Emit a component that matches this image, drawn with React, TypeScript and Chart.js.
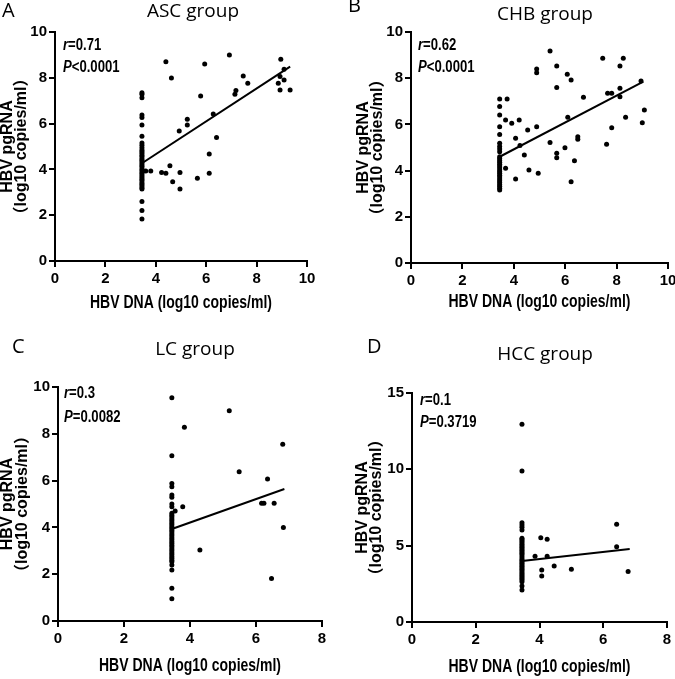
import React, { useEffect, useRef } from "react";
import { Chart, registerables } from "chart.js";
Chart.register(...registerables);

// Detection limit of HBV DNA (x) where many samples pile up
const LOD = 3.45;

// ---- Panel A: ASC group ----
const ascStackY = [7.35, 7.28, 7.13, 6.38, 6.27, 5.94, 5.45, 5.15, 5.05, 4.95, 4.85, 4.78, 4.7, 4.62, 4.55, 4.47, 4.4, 4.32, 4.25, 4.17, 4.1, 4.02, 3.95, 3.87, 3.8, 3.72, 3.65, 3.57, 3.5, 3.42, 3.35, 3.27, 3.2, 3.14, 2.6, 2.2, 1.83];
const ascX = [3.6, 3.8, 4.23, 4.4, 4.4, 4.56, 4.62, 4.67, 4.93, 4.96, 4.96, 5.25, 5.25, 5.65, 5.78, 5.94, 6.12, 6.12, 6.28, 6.41, 6.92, 7.14, 7.18, 7.47, 7.65, 8.86, 8.93, 8.96, 8.93, 9.09, 9.09, 9.33];
const ascY = [3.93, 3.93, 3.86, 8.7, 3.83, 4.16, 7.99, 3.46, 5.68, 3.86, 3.14, 6.19, 5.94, 3.61, 7.21, 8.6, 4.67, 3.83, 6.42, 5.39, 9.0, 7.28, 7.44, 8.08, 7.76, 7.76, 7.47, 8.81, 8.06, 8.37, 7.9, 7.47];
const ascFitX = [3.45, 9.33];
const ascFitY = [4.27, 8.49];

// ---- Panel B: CHB group ----
const chbStackY = [7.1, 6.77, 6.41, 5.9, 5.56, 5.18, 5.04, 4.94, 4.82, 4.6, 4.52, 4.44, 4.36, 4.28, 4.2, 4.12, 4.04, 3.96, 3.88, 3.8, 3.72, 3.64, 3.56, 3.48, 3.4, 3.32, 3.24, 3.16];
const chbX = [3.74, 3.68, 3.68, 3.92, 4.07, 4.07, 4.21, 4.24, 4.41, 4.54, 4.59, 4.89, 4.89, 4.89, 4.95, 5.41, 5.41, 5.67, 5.67, 5.67, 5.67, 5.99, 6.08, 6.1, 6.23, 6.23, 6.36, 6.49, 6.49, 6.71, 7.46, 7.61, 7.65, 7.81, 7.81, 8.13, 8.13, 8.13, 8.26, 8.35, 8.95, 9.0, 9.08];
const chbY = [7.1, 6.19, 4.1, 6.05, 5.4, 3.64, 6.19, 5.09, 4.68, 5.76, 4.03, 5.9, 8.4, 8.24, 3.88, 9.18, 5.22, 8.53, 7.6, 4.75, 4.56, 4.99, 8.17, 6.31, 7.92, 3.52, 4.43, 5.47, 5.36, 7.17, 8.86, 5.14, 7.35, 7.35, 5.86, 8.53, 7.56, 7.2, 8.86, 6.31, 7.88, 6.07, 6.62];
const chbFitX = [3.45, 9.04];
const chbFitY = [4.6, 7.85];

// ---- Panel C: LC group ----
const lcStackY = [9.54, 7.06, 5.88, 5.74, 5.38, 5.29, 5.0, 4.88, 4.6, 4.52, 4.44, 4.36, 4.28, 4.2, 4.12, 4.04, 3.96, 3.88, 3.8, 3.72, 3.64, 3.56, 3.48, 3.4, 3.32, 3.24, 3.16, 3.08, 3.0, 2.92, 2.84, 2.76, 2.68, 2.6, 2.53, 2.39, 2.18, 1.4, 0.95];
const lcX = [3.55, 3.78, 3.83, 4.3, 5.19, 5.49, 6.17, 6.24, 6.35, 6.47, 6.55, 6.81, 6.83];
const lcY = [4.7, 4.88, 8.28, 3.03, 8.99, 6.38, 5.03, 5.03, 6.07, 1.82, 5.03, 7.55, 4.0];
const lcFitX = [3.45, 6.86];
const lcFitY = [3.93, 5.64];

// ---- Panel D: HCC group ----
const hccStackY = [12.95, 9.89, 6.5, 6.35, 6.2, 6.02, 5.48, 5.4, 5.3, 5.2, 5.1, 5.0, 4.9, 4.8, 4.7, 4.6, 4.5, 4.4, 4.28, 4.15, 4.05, 3.95, 3.85, 3.75, 3.65, 3.55, 3.45, 3.35, 3.25, 3.15, 3.05, 2.95, 2.85, 2.75, 2.64, 2.36, 2.1];
const hccX = [3.86, 4.04, 4.07, 4.07, 4.24, 4.24, 4.46, 5.0, 6.42, 6.42, 6.78];
const hccY = [4.3, 5.52, 3.4, 3.01, 5.42, 4.3, 3.67, 3.45, 6.4, 4.93, 3.3];
const hccFitX = [3.45, 6.83];
const hccFitY = [3.99, 4.78];

const X_TITLE = "HBV DNA (log10 copies/ml)";
const Y_TITLE = ["HBV pgRNA", "（log10 copies/ml）"];

const ARIAL = '"Liberation Sans", Arial, sans-serif';
const SANS = '"Liberation Sans", "Noto Sans CJK SC", Arial, sans-serif';
const HEAD = '"Open Sans", "Noto Sans", sans-serif';
const NARROW_K = 0.8; // horizontal compression to mimic a narrow face

const annotPlugin = {
  id: "annot",
  afterDraw(chart: any, _args: any, o: any) {
    const ctx = chart.ctx;
    const area = chart.chartArea;
    ctx.save();
    ctx.fillStyle = "#000";
    ctx.textBaseline = "alphabetic";
    ctx.textAlign = "left";
    ctx.font = `20px ${HEAD}`;
    ctx.fillText(o.letter, o.letterX, o.letterY);
    ctx.font = `19px ${HEAD}`;
    ctx.textAlign = "center";
    ctx.fillText(o.title, o.titleX, o.titleY);

    // x-axis title (narrow bold)
    ctx.save();
    ctx.translate((area.left + area.right) / 2, area.bottom + o.xTitleDy);
    ctx.scale(NARROW_K, 1);
    ctx.font = `bold 17.5px ${ARIAL}`;
    ctx.textAlign = "center";
    ctx.textBaseline = "middle";
    ctx.fillText(X_TITLE, 0, 0);
    ctx.restore();

    // r and P annotations
    const stat = (sym: string, rest: string, x: number, y: number) => {
      ctx.save();
      ctx.translate(x, y);
      ctx.scale(0.82, 1);
      ctx.textAlign = "left";
      ctx.font = `italic bold 16px ${ARIAL}`;
      ctx.fillText(sym, 0, 0);
      const w = ctx.measureText(sym).width;
      ctx.font = `bold 16px ${ARIAL}`;
      ctx.fillText(rest, w, 0);
      ctx.restore();
    };
    stat("r", o.r, o.statX, o.rY);
    stat("P", o.p, o.statX, o.pY);
    ctx.restore();
  },
};

type PanelCfg = {
  left: number; top: number; w: number; h: number;
  area: { l: number; t: number; r: number; b: number };
  stackY: number[]; xs: number[]; ys: number[]; fitX: number[]; fitY: number[];
  xMax: number; yMax: number; yStep: number;
  yTitlePad: number;
  annot: any;
};

function Panel({ cfg }: { cfg: PanelCfg }) {
  const ref = useRef<HTMLCanvasElement>(null);
  useEffect(() => {
    const pts = [
      ...cfg.stackY.map((y) => ({ x: LOD, y })),
      ...cfg.xs.map((x, i) => ({ x, y: cfg.ys[i] })),
    ];
    const fit = cfg.fitX.map((x, i) => ({ x, y: cfg.fitY[i] }));
    const yWidth = cfg.area.l;
    const xHeight = cfg.h - cfg.area.b;
    const tickFont = { family: ARIAL, size: 15, weight: "bold" as const };
    const chart = new Chart(ref.current!, {
      type: "scatter",
      data: {
        datasets: [
          {
            data: pts,
            pointRadius: 2.5,
            pointBackgroundColor: "#000",
            pointBorderWidth: 0,
            showLine: false,
          },
          {
            data: fit,
            showLine: true,
            pointRadius: 0,
            borderColor: "#000",
            borderWidth: 2,
          },
        ],
      },
      options: {
        responsive: false,
        animation: false,
        events: [],
        layout: {
          padding: { left: 0, top: cfg.area.t, right: cfg.w - cfg.area.r, bottom: 0 },
        },
        plugins: {
          legend: { display: false },
          tooltip: { enabled: false },
          annot: cfg.annot,
        } as any,
        scales: {
          x: {
            type: "linear",
            min: 0,
            max: cfg.xMax,
            ticks: { stepSize: 2, color: "#000", font: tickFont, padding: 3 },
            grid: { drawOnChartArea: false, drawTicks: true, tickLength: 6, color: "#000", lineWidth: 2 },
            border: { display: true, color: "#000", width: 2 },
            title: { display: false },
            afterFit: (s: any) => {
              s.height = xHeight;
              s.paddingLeft = 0;
              s.paddingRight = 0;
            },
          },
          y: {
            type: "linear",
            min: 0,
            max: cfg.yMax,
            ticks: { stepSize: cfg.yStep, color: "#000", font: tickFont, padding: 2 },
            grid: { drawOnChartArea: false, drawTicks: true, tickLength: 6, color: "#000", lineWidth: 2 },
            border: { display: true, color: "#000", width: 2 },
            title: {
              display: true,
              text: Y_TITLE,
              color: "#000",
              font: { family: SANS, size: 16, weight: "bold", lineHeight: 0.9 },
              padding: { top: cfg.yTitlePad, bottom: 0 },
            },
            afterFit: (s: any) => {
              s.width = yWidth;
              s.paddingTop = 0;
              s.paddingBottom = 0;
            },
          },
        },
      } as any,
      plugins: [annotPlugin as any],
    });
    return () => chart.destroy();
  }, [cfg]);
  return (
    <canvas
      ref={ref}
      width={cfg.w}
      height={cfg.h}
      style={{ position: "absolute", left: cfg.left, top: cfg.top, width: cfg.w, height: cfg.h }}
    />
  );
}

const panels: PanelCfg[] = [
  {
    left: 0, top: 0, w: 337, h: 325,
    area: { l: 55, t: 32, r: 307, b: 261 },
    stackY: ascStackY, xs: ascX, ys: ascY, fitX: ascFitX, fitY: ascFitY,
    xMax: 10, yMax: 10, yStep: 2, yTitlePad: 0,
    annot: { letter: "A", letterX: 2, letterY: 17, title: "ASC group", titleX: 193, titleY: 17, r: "=0.71", p: "<0.0001", statX: 63, rY: 50, pY: 72, xTitleDy: 42 },
  },
  {
    left: 337, top: 0, w: 338, h: 325,
    area: { l: 74, t: 32, r: 331, b: 263 },
    stackY: chbStackY, xs: chbX, ys: chbY, fitX: chbFitX, fitY: chbFitY,
    xMax: 10, yMax: 10, yStep: 2, yTitlePad: 19,
    annot: { letter: "B", letterX: 11, letterY: 12, title: "CHB group", titleX: 208, titleY: 20, r: "=0.62", p: "<0.0001", statX: 81, rY: 50, pY: 72, xTitleDy: 39 },
  },
  {
    left: 0, top: 330, w: 337, h: 349,
    area: { l: 58, t: 57, r: 322, b: 291 },
    stackY: lcStackY, xs: lcX, ys: lcY, fitX: lcFitX, fitY: lcFitY,
    xMax: 8, yMax: 10, yStep: 2, yTitlePad: 0.5,
    annot: { letter: "C", letterX: 12, letterY: 23, title: "LC group", titleX: 195, titleY: 25, r: "=0.3", p: "=0.0082", statX: 64, rY: 68, pY: 92, xTitleDy: 45 },
  },
  {
    left: 337, top: 330, w: 338, h: 349,
    area: { l: 75, t: 63, r: 330, b: 292 },
    stackY: hccStackY, xs: hccX, ys: hccY, fitX: hccFitX, fitY: hccFitY,
    xMax: 8, yMax: 15, yStep: 5, yTitlePad: 18,
    annot: { letter: "D", letterX: 30, letterY: 23, title: "HCC group", titleX: 208, titleY: 30, r: "=0.1", p: "=0.3719", statX: 83, rY: 75, pY: 97, xTitleDy: 45 },
  },
];

export default function App() {
  return (
    <div
      style={{
        position: "absolute",
        left: 0,
        top: 0,
        width: 675,
        height: 679,
        overflow: "hidden",
        background: "#fff",
      }}
    >
      {panels.map((p, i) => (
        <Panel key={i} cfg={p} />
      ))}
    </div>
  );
}
